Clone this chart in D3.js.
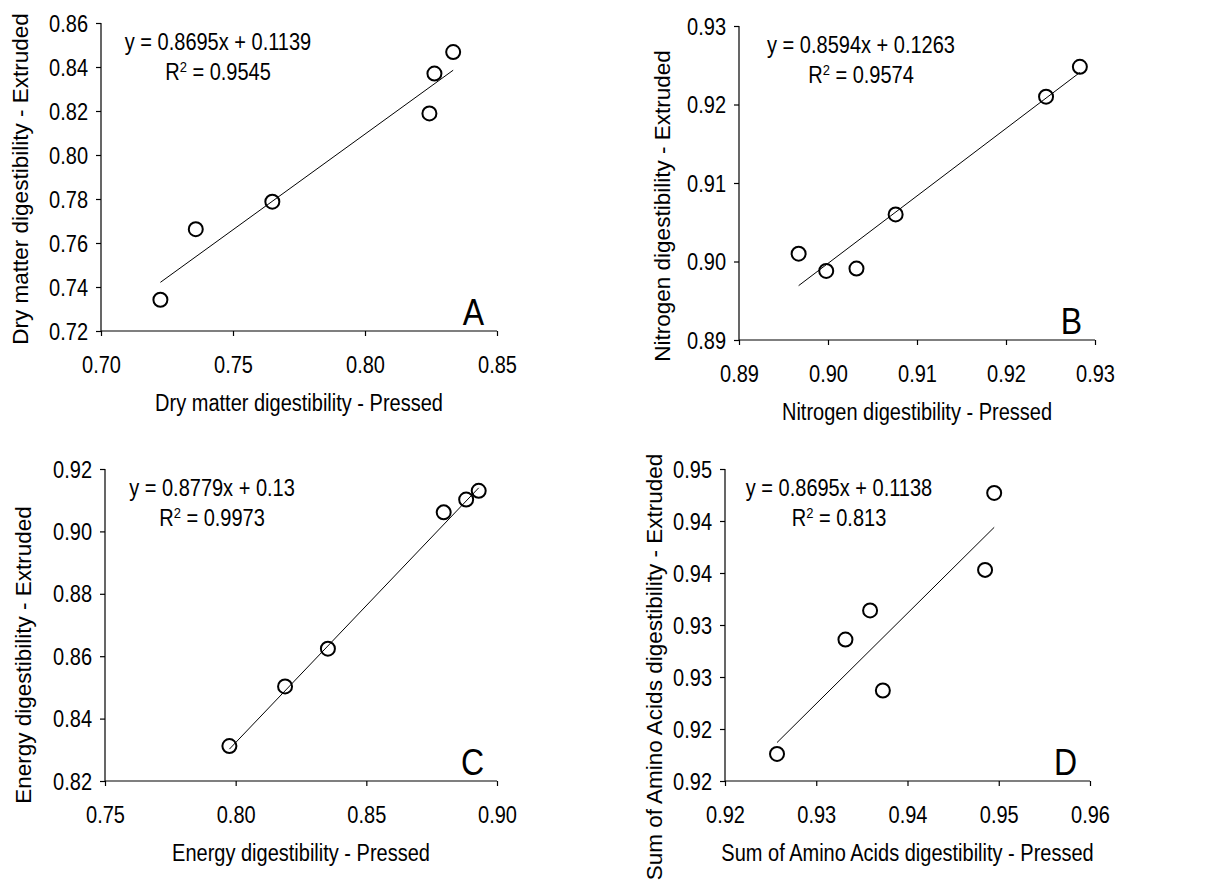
<!DOCTYPE html>
<html>
<head>
<meta charset="utf-8">
<script src="https://cdn.jsdelivr.net/npm/d3@7"></script>
<style>
  html, body { margin: 0; padding: 0; background: #fff; }
  svg { display: block; font-family: "Liberation Sans", Arial, sans-serif; }
</style>
</head>
<body>
<svg id="chart" width="1228" height="888"></svg>
<script>
// ---- Data: digestibility coefficients, pressed vs extruded diets ----
const dryMatterPressed  = [0.7225, 0.7359, 0.7649, 0.8244, 0.8263, 0.8334];
const dryMatterExtruded = [0.7342, 0.7663, 0.7788, 0.8189, 0.8370, 0.8468];

const nitrogenPressed  = [0.8967, 0.8998, 0.9032, 0.9076, 0.9245, 0.9283];
const nitrogenExtruded = [0.9010, 0.8988, 0.8991, 0.9060, 0.9210, 0.9248];

const energyPressed  = [0.7976, 0.8189, 0.8353, 0.8796, 0.8882, 0.8930];
const energyExtruded = [0.8312, 0.8503, 0.8624, 0.9061, 0.9102, 0.9130];

const aminoPressed  = [0.9257, 0.9332, 0.9359, 0.9373, 0.9485, 0.9495];
const aminoExtruded = [0.9176, 0.9286, 0.9314, 0.9237, 0.9353, 0.9427];

// Linear fits (slope, intercept, R²) as reported on each panel
const fitSlopes     = [0.8695, 0.8594, 0.8779, 0.8695];
const fitIntercepts = [0.1139, 0.1263, 0.13, 0.1138];
const fitR2         = ["0.9545", "0.9574", "0.9973", "0.813"];
const fitEquations  = ["y = 0.8695x + 0.1139", "y = 0.8594x + 0.1263",
                       "y = 0.8779x + 0.13",   "y = 0.8695x + 0.1138"];

// Axis ticks and their labels
const dmXTicks = [0.70, 0.75, 0.80, 0.85];
const dmXLabels = ["0.70", "0.75", "0.80", "0.85"];
const dmYTicks = [0.72, 0.74, 0.76, 0.78, 0.80, 0.82, 0.84, 0.86];
const dmYLabels = ["0.72", "0.74", "0.76", "0.78", "0.80", "0.82", "0.84", "0.86"];

const nXTicks = [0.89, 0.90, 0.91, 0.92, 0.93];
const nXLabels = ["0.89", "0.90", "0.91", "0.92", "0.93"];
const nYTicks = [0.89, 0.90, 0.91, 0.92, 0.93];
const nYLabels = ["0.89", "0.90", "0.91", "0.92", "0.93"];

const eXTicks = [0.75, 0.80, 0.85, 0.90];
const eXLabels = ["0.75", "0.80", "0.85", "0.90"];
const eYTicks = [0.82, 0.84, 0.86, 0.88, 0.90, 0.92];
const eYLabels = ["0.82", "0.84", "0.86", "0.88", "0.90", "0.92"];

const aaXTicks = [0.92, 0.93, 0.94, 0.95, 0.96];
const aaXLabels = ["0.92", "0.93", "0.94", "0.95", "0.96"];
const aaYTicks = [0.915, 0.920, 0.925, 0.930, 0.935, 0.940, 0.945];
const aaYLabels = ["0.92", "0.92", "0.93", "0.93", "0.94", "0.94", "0.95"];

const panelLetters = ["A", "B", "C", "D"];
const xTitles = ["Dry matter digestibility - Pressed", "Nitrogen digestibility - Pressed",
                 "Energy digestibility - Pressed", "Sum of Amino Acids digestibility - Pressed"];
const yTitles = ["Dry matter digestibility - Extruded", "Nitrogen digestibility - Extruded",
                 "Energy digestibility - Extruded", "Sum of Amino Acids digestibility - Extruded"];

// ---- Panel layout (plot-area pixel boxes) ----
const layout = [
  { x0: 101, x1: 497,  y0: 23,  y1: 331, yTitleX: 20,  yTitleY: 179, eqX: 218 },
  { x0: 739, x1: 1095, y0: 26,  y1: 340, yTitleX: 662, yTitleY: 206, eqX: 861 },
  { x0: 105, x1: 497,  y0: 469, y1: 781, yTitleX: 23,  yTitleY: 655, eqX: 212 },
  { x0: 725, x1: 1090, y0: 469, y1: 781, yTitleX: 654, yTitleY: 667, eqX: 839 }
];

const panels = [
  { px: dryMatterPressed, py: dryMatterExtruded, xt: dmXTicks, xl: dmXLabels, yt: dmYTicks, yl: dmYLabels },
  { px: nitrogenPressed,  py: nitrogenExtruded,  xt: nXTicks,  xl: nXLabels,  yt: nYTicks,  yl: nYLabels },
  { px: energyPressed,    py: energyExtruded,    xt: eXTicks,  xl: eXLabels,  yt: eYTicks,  yl: eYLabels },
  { px: aminoPressed,     py: aminoExtruded,     xt: aaXTicks, xl: aaXLabels, yt: aaYTicks, yl: aaYLabels }
];

// Horizontal text is drawn slightly tall and narrow
const TALL = 1.15;
const place = (x, y) => `translate(${x},${y}) scale(1,${TALL})`;

const svg = d3.select("#chart");

panels.forEach((p, i) => {
  const L = layout[i];
  const x = d3.scaleLinear().domain(d3.extent(p.xt)).range([L.x0, L.x1]);
  const y = d3.scaleLinear().domain(d3.extent(p.yt)).range([L.y1, L.y0]);
  const g = svg.append("g");

  // X axis
  const xAxis = d3.axisBottom(x).tickValues(p.xt)
    .tickFormat((d, k) => p.xl[k]).tickSize(5);
  const gx = g.append("g").attr("transform", `translate(0,${L.y1})`).call(xAxis);
  gx.select(".domain").attr("d", `M${L.x0},0H${L.x1}`);
  gx.selectAll(".tick text").attr("y", null).attr("dy", null)
    .attr("transform", place(0, 42));

  // Y axis
  const yAxis = d3.axisLeft(y).tickValues(p.yt)
    .tickFormat((d, k) => p.yl[k]).tickSize(5);
  const gy = g.append("g").attr("transform", `translate(${L.x0},0)`).call(yAxis);
  gy.select(".domain").attr("d", `M0,${L.y0}V${L.y1}`);
  gy.selectAll(".tick text").attr("x", null).attr("dy", null)
    .attr("transform", place(-13, 8));

  [gx, gy].forEach(ax => {
    ax.attr("font-family", null).attr("font-size", null);
    ax.selectAll(".domain, .tick line").attr("stroke", "#000").attr("stroke-width", 1.2);
    ax.selectAll(".tick text").attr("fill", "#000").style("font-size", "20px");
  });

  // Axis titles
  g.append("text")
    .attr("transform", place((L.x0 + L.x1) / 2, L.y1 + 80))
    .attr("text-anchor", "middle").style("font-size", "20px")
    .text(xTitles[i]);

  g.append("text")
    .attr("transform", `translate(${L.yTitleX + 8},${L.yTitleY}) rotate(-90)`)
    .attr("text-anchor", "middle").style("font-size", "22.5px")
    .text(yTitles[i]);

  // Trend line over the observed range
  const [xa, xb] = d3.extent(p.px);
  const m = fitSlopes[i], b = fitIntercepts[i];
  g.append("line")
    .attr("x1", x(xa)).attr("y1", y(m * xa + b))
    .attr("x2", x(xb)).attr("y2", y(m * xb + b))
    .attr("stroke", "#000").attr("stroke-width", 1);

  // Observations
  g.selectAll("circle.pt")
    .data(p.px.map((v, k) => [v, p.py[k]]))
    .join("circle")
    .attr("class", "pt")
    .attr("cx", d => x(d[0])).attr("cy", d => y(d[1]))
    .attr("r", 7)
    .attr("fill", "none").attr("stroke", "#000").attr("stroke-width", 2);

  // Fit equation and R²
  g.append("text")
    .attr("transform", place(L.eqX, L.y0 + 27))
    .attr("text-anchor", "middle").style("font-size", "20px")
    .text(fitEquations[i]);
  const r2 = g.append("text")
    .attr("transform", place(L.eqX, L.y0 + 57))
    .attr("text-anchor", "middle").style("font-size", "20px");
  r2.append("tspan").text("R");
  r2.append("tspan").attr("dy", -7).style("font-size", "13px").text("2");
  r2.append("tspan").attr("dy", 7).text(" = " + fitR2[i]);

  // Panel letter
  g.append("text")
    .attr("transform", place(L.x1 - 13, L.y1 - 6))
    .attr("text-anchor", "end").style("font-size", "32px")
    .text(panelLetters[i]);
});
</script>
</body>
</html>
